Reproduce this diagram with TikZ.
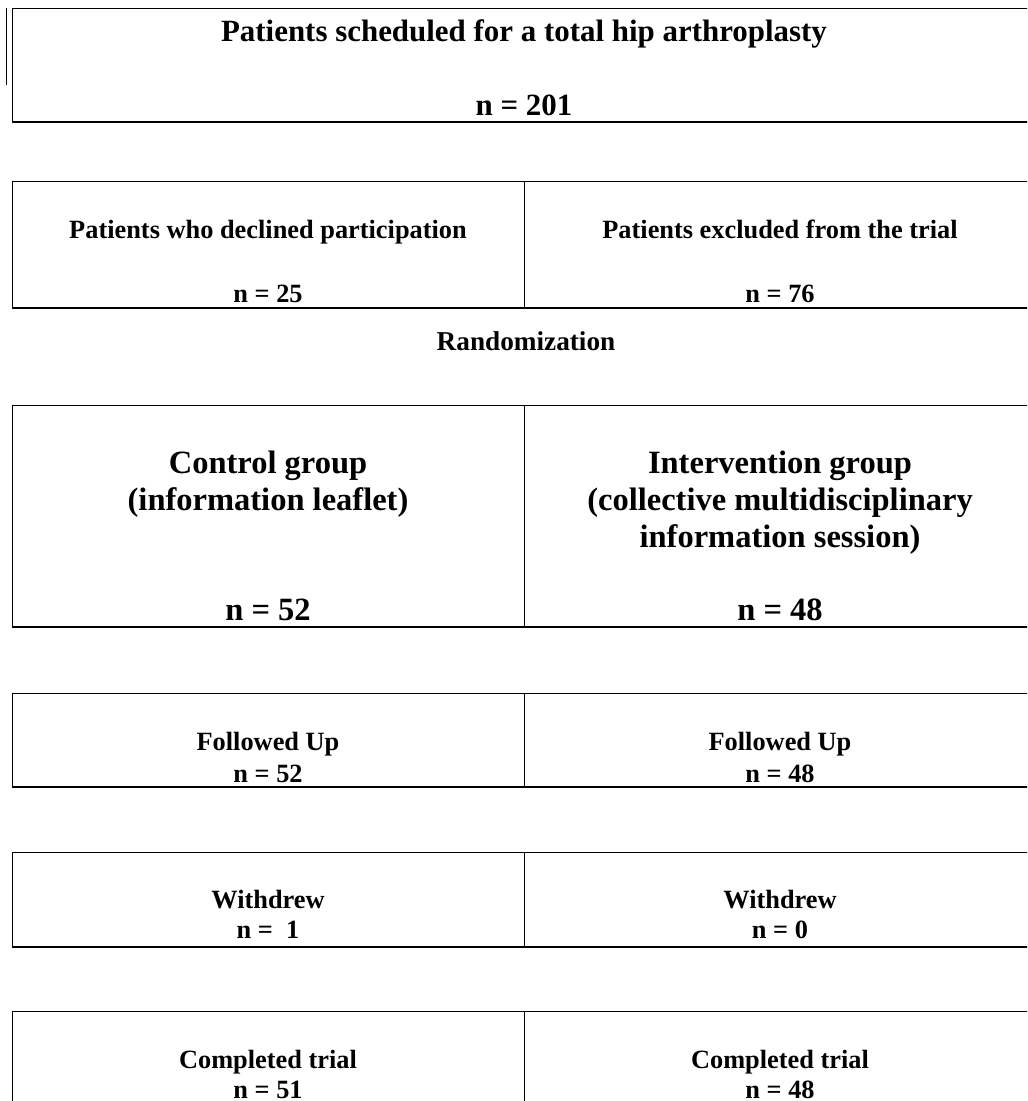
\documentclass[tikz,border=0pt]{standalone}
\usepackage{fontspec}
\setmainfont{Liberation Serif}
\tikzset{
  cell/.style={line width=0.5pt},
  base/.style={line width=1.2pt},
  txt/.style={anchor=base, inner sep=0pt, font=\bfseries\fontsize{15}{18}\selectfont},
  head/.style={txt, font=\bfseries\fontsize{17.6}{20}\selectfont},
  big/.style={txt, font=\bfseries\fontsize{18.5}{22}\selectfont}
}
\begin{document}
\begin{tikzpicture}[x=0.02cm, y=-0.02cm]
\clip (0,0) rectangle (1027,1101);
\fill[white] (0,0) rectangle (1027,1101);
% total
\draw [cell] (12,122) -- (12,8) -- (1040,8);
\draw [cell] (6.5,8) -- (6.5,85);
\draw [base] (12,122) -- (1040,122);
\node [head] (total) at (524,42) {Patients scheduled for a total hip arthroplasty};
\node [head] (totaln) at (524,116) {n = 201};
% declined / excluded
\draw [cell] (12,308) -- (12,181) -- (1040,181);
\draw [cell] (524,181) -- (524,308);
\draw [base] (12,308) -- (1040,308);
\node [txt] (declined) at (268,239) {Patients who declined participation};
\node [txt] (declinedn) at (268,302) {n = 25};
\node [txt] (excluded) at (780,239) {Patients excluded from the trial};
\node [txt] (excludedn) at (780,302) {n = 76};
\node [txt, font=\bfseries\fontsize{15.5}{18}\selectfont] (random) at (526,350) {Randomization};
% groups
\draw [cell] (12,627) -- (12,405) -- (1040,405);
\draw [cell] (524,405) -- (524,627);
\draw [base] (12,627) -- (1040,627);
\node [big] (control) at (268,473) {Control group};
\node [big] (controlsub) at (268,510) {(information leaflet)};
\node [big] (controln) at (268,620) {n = 52};
\node [big] (interv) at (780,473) {Intervention group};
\node [big] (intervsub) at (780,510) {(collective multidisciplinary};
\node [big] (intervsubb) at (780,547) {information session)};
\node [big] (intervn) at (780,620) {n = 48};
% followed up
\draw [cell] (12,787) -- (12,693) -- (1040,693);
\draw [cell] (524,693) -- (524,787);
\draw [base] (12,787) -- (1040,787);
\node [txt] (followc) at (268,750) {Followed Up};
\node [txt] (followcn) at (268,782) {n = 52};
\node [txt] (followi) at (780,750) {Followed Up};
\node [txt] (followin) at (780,782) {n = 48};
% withdrew
\draw [cell] (12,947) -- (12,852) -- (1040,852);
\draw [cell] (524,852) -- (524,947);
\draw [base] (12,947) -- (1040,947);
\node [txt] (withc) at (268,908) {Withdrew};
\node [txt] (withcn) at (268,938) {n =\ \ 1};
\node [txt] (withi) at (780,908) {Withdrew};
\node [txt] (within) at (780,938) {n = 0};
% completed
\draw [cell] (12,1120) -- (12,1011) -- (1040,1011);
\draw [cell] (524,1011) -- (524,1120);
\node [txt] (compc) at (268,1068) {Completed trial};
\node [txt] (compcn) at (268,1098) {n = 51};
\node [txt] (compi) at (780,1068) {Completed trial};
\node [txt] (compin) at (780,1098) {n = 48};
\end{tikzpicture}
\end{document}
